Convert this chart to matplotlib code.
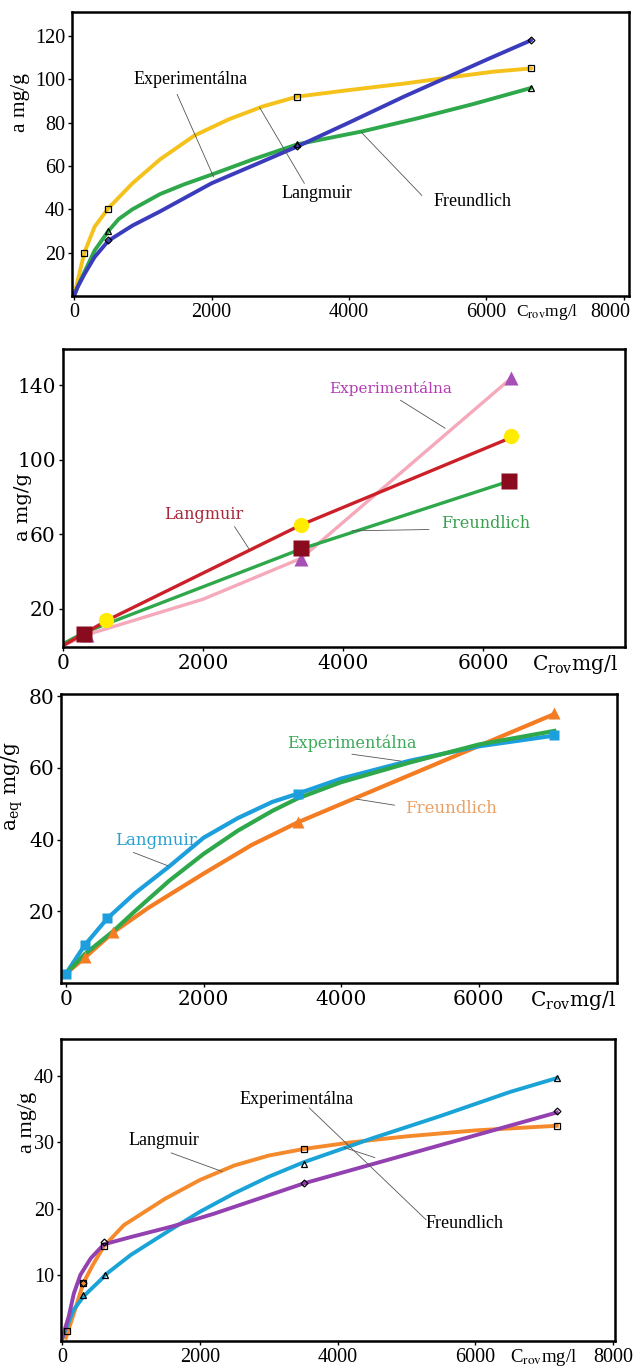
import matplotlib
matplotlib.use("Agg")
import matplotlib.pyplot as plt
from matplotlib.transforms import ScaledTranslation

# ==========================================
# DATA
# ==========================================
# Panel 1
p1_yellow_x = [0, 60, 150, 300, 500, 850, 1250, 1750, 2250, 2750, 3250, 4000, 4800, 5500, 6100, 6650]
p1_yellow_y = [0, 8, 20, 32, 40.5, 52, 63, 74, 81.5, 87.5, 92, 95, 98, 101, 103.5, 105]
p1_green_x = [0, 50, 150, 300, 500, 650, 850, 1250, 1600, 2000, 2600, 3250, 4200, 5000, 5800, 6650]
p1_green_y = [0, 4, 11, 21, 30, 35.5, 40, 47, 51.5, 56, 63, 70, 76, 82, 88.5, 96]
p1_blue_x = [0, 50, 150, 300, 500, 850, 1250, 2000, 2700, 3250, 4000, 4800, 5400, 6000, 6650]
p1_blue_y = [0, 4, 10, 18, 25.5, 32.5, 39, 52, 61.5, 69, 80, 92, 100.5, 109, 118]
p1_sq_x, p1_sq_y = [150, 500, 3250, 6650], [20, 40, 92, 105]
p1_tri_x, p1_tri_y = [500, 3250, 6650], [30, 70, 96]
p1_dia_x, p1_dia_y = [500, 3250, 6650], [26, 69, 118]

# Panel 2
p2_red_x, p2_red_y = [0, 650, 3400, 6400], [0, 14, 65, 112]
p2_green_x, p2_green_y = [0, 300, 3400, 6370], [1, 7, 52, 88.5]
p2_pink_x, p2_pink_y = [0, 350, 2000, 3400, 6400], [0, 6, 25, 47, 144]
p2_circ_x, p2_circ_y = [620, 3400, 6400], [14, 65, 113]
p2_sq_x, p2_sq_y = [300, 3400, 6370], [6.5, 52.5, 88.5]
p2_tri_x, p2_tri_y = [350, 3400, 6400], [6, 46.5, 144]

# Panel 3
p3_blue_x = [0, 270, 600, 1000, 1500, 2000, 2500, 3000, 3370, 4000, 5000, 6000, 7100]
p3_blue_y = [2.6, 10.5, 18, 25, 32.5, 40.5, 46, 50.5, 52.8, 57, 62, 66, 69]
p3_green_x = [0, 270, 690, 1000, 1500, 2000, 2500, 3000, 3370, 4000, 5000, 6000, 7100]
p3_green_y = [2.6, 8, 14.5, 20, 28.5, 36, 42.5, 48, 51.5, 56, 61.5, 66.5, 70.3]
p3_orange_x = [0, 280, 690, 1200, 2000, 2700, 3370, 7100]
p3_orange_y = [2.6, 7.2, 14.2, 21, 30.5, 38.5, 44.8, 75]
p3_sq_x, p3_sq_y = [0, 270, 600, 3370, 7100], [2.6, 10.5, 18.2, 52.8, 69.2]
p3_tri_x, p3_tri_y = [280, 690, 3370, 7100], [7.2, 14.2, 44.8, 75.2]

# Panel 4
p4_orange_x = [60, 200, 310, 450, 610, 900, 1500, 2000, 2500, 3000, 3510, 4200, 5000, 6000, 7180]
p4_orange_y = [0.5, 5, 8.7, 11.5, 14.3, 17.5, 21.5, 24.3, 26.5, 28, 29, 30, 30.9, 31.8, 32.5]
p4_blue_x = [0, 170, 320, 560, 630, 1000, 1500, 2000, 2500, 3000, 3510, 4500, 5500, 6500, 7180]
p4_blue_y = [0.3, 4.7, 6.8, 9.2, 10, 13, 16.3, 19.5, 22.3, 24.8, 27, 30.6, 34, 37.6, 39.7]
p4_purple_x = [0, 100, 175, 270, 420, 610, 1000, 1600, 2200, 2800, 3510, 7180]
p4_purple_y = [0.3, 3.7, 7.2, 10, 12.5, 14.6, 15.7, 17.3, 19.2, 21.3, 23.8, 34.5]
p4_sq_x, p4_sq_y = [80, 310, 610, 3510, 7180], [1.5, 8.8, 14.3, 29, 32.5]
p4_tri_x, p4_tri_y = [310, 630, 3510, 7180], [7, 10, 26.8, 39.7]
p4_dia_x, p4_dia_y = [310, 610, 3510, 7180], [8.8, 14.9, 23.9, 34.7]

TIMES = "Liberation Serif"
WIDE = "DejaVu Serif"
LEADER = dict(color="#555555", lw=0.6)


def frame(ax, family, xticks, yticks, xlim, ylim, ylabel, ylab_pos, ylab_size,
          xlab_x, xlab_size, mathfam):
    ax.set_xlim(*xlim)
    ax.set_ylim(*ylim)
    ax.set_xticks(xticks)
    ax.set_yticks(yticks)
    ax.set_xticklabels([str(t) for t in xticks], family=family, fontsize=14.5)
    ax.set_yticklabels([str(t) for t in yticks], family=family, fontsize=14.5)
    ax.tick_params(length=3, width=1, pad=2)
    for s in ax.spines.values():
        s.set_linewidth(1.8)
    ax.text(ylab_pos[0], ylab_pos[1], ylabel, transform=ax.transAxes, rotation=90,
            ha="center", va="center", family=family, fontsize=ylab_size,
            math_fontfamily=mathfam)
    ax.annotate(r"C$_{\mathrm{rov}}$mg/l", xy=(xlab_x, 0), xycoords=("data", "axes fraction"),
                xytext=(0, -4), textcoords="offset points", ha="left", va="top",
                family=family, fontsize=xlab_size, math_fontfamily=mathfam)


def label(ax, txt, xy, start, end, color, family, size):
    ax.text(xy[0], xy[1], txt, ha="center", va="center", color=color, family=family, fontsize=size)
    ax.plot([start[0], end[0]], [start[1], end[1]], **LEADER)


fig = plt.figure(figsize=(6.34, 13.68), dpi=100)

# ---------------- Panel 1 ----------------
ax1 = fig.add_axes([0.1136, 0.7836, 0.8785, 0.2076])
ax1.plot(p1_yellow_x, p1_yellow_y, color="#f5c21b", lw=2.8, solid_capstyle="round")
ax1.plot(p1_green_x, p1_green_y, color="#2fa84c", lw=2.8, solid_capstyle="round")
ax1.plot(p1_blue_x, p1_blue_y, color="#3b3cbc", lw=2.8, solid_capstyle="round")
ax1.plot(p1_sq_x, p1_sq_y, "s", ms=4, mfc="none", mec="black", mew=0.9)
ax1.plot(p1_tri_x, p1_tri_y, "^", ms=4, mfc="none", mec="black", mew=0.9)
ax1.plot(p1_dia_x, p1_dia_y, "D", ms=3.5, mfc="none", mec="black", mew=0.9)
label(ax1, "Experimentálna", (1700, 100), (1500, 93), (2030, 55), "black", TIMES, 13)
label(ax1, "Langmuir", (3530, 47.5), (2700, 87), (3350, 52), "black", TIMES, 13)
label(ax1, "Freundlich", (5790, 43.7), (4180, 75.5), (5060, 46.4), "black", TIMES, 13)
frame(ax1, TIMES, [0, 2000, 4000, 6000, 8000], [20, 40, 60, 80, 100, 120],
      (-29, 8073), (0, 131), "a mg/g", (-0.093, 0.68), 15.5, 6430, 12.5, "stix")
last = ax1.get_xticklabels()[-1]
last.set_ha("right")
last.set_transform(last.get_transform() + ScaledTranslation(6 / 100, 0, fig.dpi_scale_trans))

# ---------------- Panel 2 ----------------
ax2 = fig.add_axes([0.0989, 0.527, 0.8869, 0.2178])
ax2.plot(p2_pink_x, p2_pink_y, color="#f5a9bb", lw=2.4)
ax2.plot(p2_green_x, p2_green_y, color="#2ea84a", lw=2.4)
ax2.plot(p2_red_x, p2_red_y, color="#cc2029", lw=2.4)
ax2.plot(p2_tri_x, p2_tri_y, "^", ms=10, color="#a64fb4", mec="none")
ax2.plot(p2_circ_x, p2_circ_y, "o", ms=11, color="#ffec00", mec="none")
ax2.plot(p2_sq_x, p2_sq_y, "s", ms=11, color="#8a0a1e", mec="none")
label(ax2, "Experimentálna", (4674, 138.5), (4818, 132), (5453, 117), "#b43cb4", WIDE, 11)
label(ax2, "Langmuir", (2008, 70.8), (2452, 64), (2654, 52.3), "#a8283c", WIDE, 11.5)
label(ax2, "Freundlich", (6030, 65.7), (5222, 62.5), (4126, 61.8), "#3aa050", WIDE, 11.5)
frame(ax2, WIDE, [0, 2000, 4000, 6000], [20, 60, 100, 140],
      (0, 8020), (-0.7, 159.5), "a mg/g", (-0.071, 0.47), 14, 6694, 14.5, "dejavuserif")

# ---------------- Panel 3 ----------------
ax3 = fig.add_axes([0.097, 0.2814, 0.8762, 0.2113])
ax3.plot(p3_orange_x, p3_orange_y, color="#f47c22", lw=3)
ax3.plot(p3_blue_x, p3_blue_y, color="#1c9fdc", lw=3)
ax3.plot(p3_green_x, p3_green_y, color="#2ea84a", lw=3)
ax3.plot(p3_sq_x, p3_sq_y, "s", ms=7, color="#1c9fdc", mec="none")
ax3.plot(p3_tri_x, p3_tri_y, "^", ms=9, color="#f47c22", mec="none")
label(ax3, "Experimentálna", (4153, 67), (4159, 63.8), (4865, 61.9), "#3caa5a", WIDE, 11.5)
label(ax3, "Freundlich", (5600, 48.7), (4776, 49.6), (4218, 51.3), "#eaa062", WIDE, 12)
label(ax3, "Langmuir", (1306, 39.7), (982, 36.4), (1482, 32.7), "#2aa0d0", WIDE, 12)
frame(ax3, WIDE, [0, 2000, 4000, 6000], [20, 40, 60, 80],
      (-65, 8012), (0, 80.6), r"a$_{\mathrm{eq}}$ mg/g", (-0.088, 0.68), 14.5, 6747, 14.5,
      "dejavuserif")

# ---------------- Panel 4 ----------------
ax4 = fig.add_axes([0.0962, 0.0197, 0.8738, 0.2208])
ax4.plot(p4_orange_x, p4_orange_y, color="#f58a2c", lw=2.8)
ax4.plot(p4_blue_x, p4_blue_y, color="#1aa3d6", lw=2.8)
ax4.plot(p4_purple_x, p4_purple_y, color="#9340b0", lw=2.8)
ax4.plot(p4_sq_x, p4_sq_y, "s", ms=4, mfc="none", mec="black", mew=0.9)
ax4.plot(p4_tri_x, p4_tri_y, "^", ms=4, mfc="none", mec="black", mew=0.9)
ax4.plot(p4_dia_x, p4_dia_y, "D", ms=3.5, mfc="none", mec="black", mew=0.9)
label(ax4, "Experimentálna", (3402, 36.4), (3589, 35.2), (5285, 18.3), "black", TIMES, 13)
label(ax4, "Langmuir", (1479, 30.3), (1586, 28.4), (2325, 25.6), "black", TIMES, 13)
label(ax4, "Freundlich", (5840, 17.7), (4100, 29.2), (4540, 27.7), "black", TIMES, 13)
frame(ax4, TIMES, [0, 2000, 4000, 6000, 8000], [10, 20, 30, 40],
      (-12, 8024), (0, 45.6), "a mg/g", (-0.061, 0.725), 16, 6497, 13.5, "stix")

fig.savefig("out.png", dpi=100)
